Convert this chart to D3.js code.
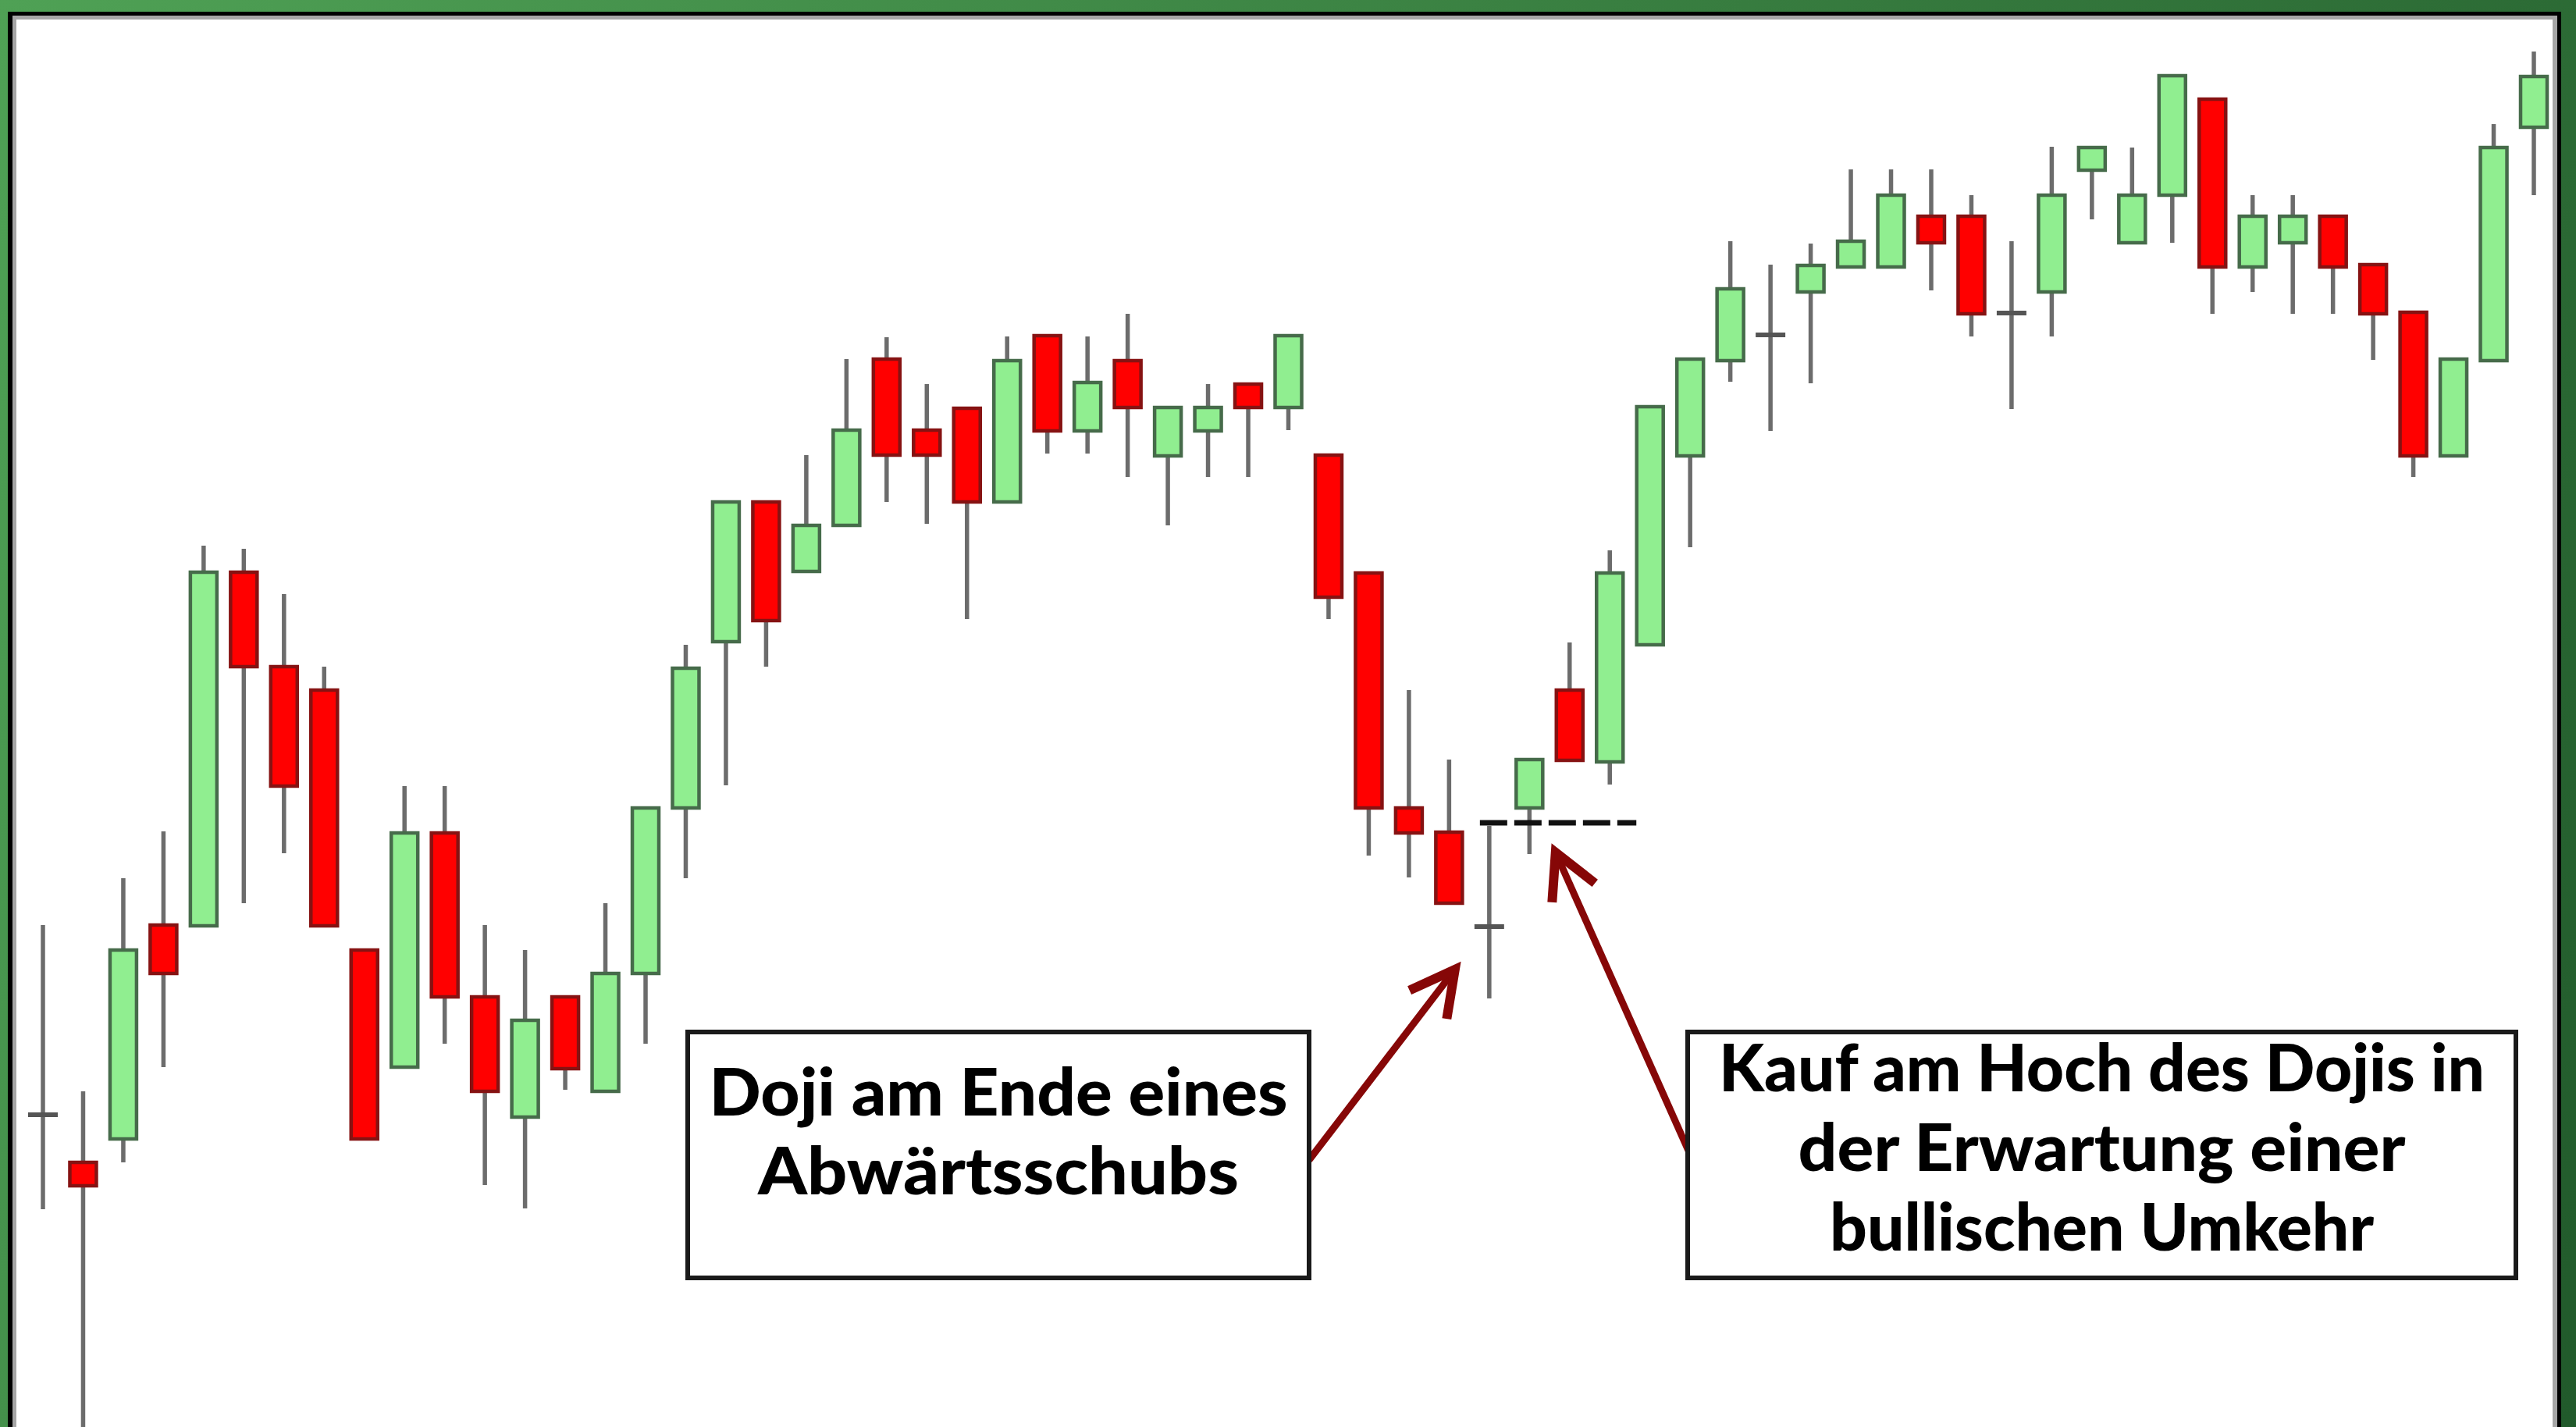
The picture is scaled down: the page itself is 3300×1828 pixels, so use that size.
<!DOCTYPE html>
<html>
<head>
<meta charset="utf-8">
<script src="https://cdn.jsdelivr.net/npm/d3@7"></script>
<style>
  body { margin: 0; background: #fff; }
  svg { display: block; }
</style>
</head>
<body>
<div id="chart"></div>
<script>
// page size
const W = 3300, H = 1828;

// one candle per period
const periods = d3.range(63);

const opens = [47.2, 41.1, 44.1, 71.5, 71.4, 116.7, 104.6, 101.6, 68.3, 53.3,
  83.3, 62.3, 46.9, 62.3, 50.2, 65.3, 86.5, 107.8, 125.7, 116.8,
  122.7, 144.0, 134.9, 137.7, 125.7, 147.0, 134.8, 143.8, 131.6, 134.8,
  140.8, 137.8, 131.7, 116.6, 86.5, 83.4, 71.3, 86.5, 101.6, 92.4,
  107.4, 131.6, 143.8, 147.1, 152.6, 155.8, 155.8, 162.3, 162.3, 149.9,
  152.6, 168.2, 158.9, 165.0, 177.3, 155.8, 158.9, 162.3, 156.1, 150.0,
  131.6, 143.8, 173.7];

const highs = [71.5, 50.2, 77.5, 83.5, 120.1, 119.7, 113.9, 104.6, 68.3, 89.3,
  89.3, 71.5, 68.3, 62.3, 74.3, 86.5, 107.4, 125.7, 125.7, 131.7,
  144.0, 146.8, 140.8, 137.7, 146.9, 147.0, 146.9, 149.8, 137.8, 140.8,
  140.8, 147.0, 131.7, 116.6, 101.6, 92.7, 84.2, 92.7, 107.7, 119.5,
  137.9, 144.0, 159.1, 156.1, 158.8, 168.3, 168.3, 168.3, 165.0, 159.1,
  171.2, 171.1, 171.1, 180.3, 177.3, 165.0, 165.0, 162.3, 156.1, 150.0,
  144.0, 174.1, 183.4];

const lows = [35.1, 4.0, 41.1, 53.3, 71.4, 74.3, 80.7, 71.4, 44.1, 53.3,
  56.3, 38.2, 35.2, 50.4, 50.2, 56.3, 77.5, 89.4, 104.6, 116.8,
  122.7, 125.7, 122.9, 110.7, 125.7, 131.9, 131.9, 128.9, 122.7, 128.9,
  128.9, 134.9, 110.7, 80.4, 77.6, 74.3, 62.1, 80.6, 92.6, 89.5,
  107.4, 119.9, 141.1, 134.8, 140.9, 155.8, 155.8, 152.8, 146.9, 137.6,
  146.9, 161.9, 158.9, 158.9, 149.8, 152.6, 149.8, 149.8, 143.9, 128.9,
  131.6, 143.8, 165.0];

const closes = [47.2, 38.1, 68.3, 65.3, 116.7, 104.6, 89.3, 71.4, 44.1, 83.3,
  62.3, 50.2, 59.3, 53.1, 65.3, 86.5, 104.4, 125.7, 110.5, 122.7,
  134.9, 131.7, 131.7, 125.7, 143.8, 134.8, 141.0, 137.8, 137.8, 137.8,
  137.8, 147.0, 113.5, 86.5, 83.3, 74.3, 71.3, 92.7, 92.6, 116.6,
  137.9, 144.0, 153.0, 147.1, 156.0, 159.1, 165.0, 158.9, 149.8, 149.9,
  165.0, 171.1, 165.0, 180.3, 155.8, 162.3, 162.3, 155.8, 149.8, 131.6,
  144.0, 171.1, 180.2];

// annotation texts
const leftNote = ["Doji am Ende eines", "Abwärtsschubs"];
const rightNote = ["Kauf am Hoch des Dojis in", "der Erwartung einer", "bullischen Umkehr"];
const dojiIndex = 36;

const candles = periods.map(i => ({
  i: i, open: opens[i], high: highs[i], low: lows[i], close: closes[i]
}));

const svg = d3.select("#chart")
  .append("svg")
    .attr("width", W)
    .attr("height", H);

// green frame with a soft gradient
const grad = svg.append("defs").append("linearGradient")
    .attr("id", "frameGreen")
    .attr("gradientUnits", "userSpaceOnUse")
    .attr("x1", 0).attr("y1", 0)
    .attr("x2", W).attr("y2", H);
grad.append("stop").attr("offset", "0%").attr("stop-color", "#4fa155");
grad.append("stop").attr("offset", "100%").attr("stop-color", "#215a2b");

svg.append("rect").attr("width", W).attr("height", H).attr("fill", "url(#frameGreen)");
svg.append("rect").attr("x", 10).attr("y", 15).attr("width", 3271).attr("height", 1900).attr("fill", "#000");
svg.append("rect").attr("x", 16).attr("y", 20).attr("width", 3260).attr("height", 1900).attr("fill", "#a6a6a6");
svg.append("rect").attr("x", 21).attr("y", 25).attr("width", 3249).attr("height", 1900).attr("fill", "#fff");

// scales
const x = d3.scalePoint()
  .domain(periods)
  .range([55, 3246]);

const y = d3.scaleLinear()
  .domain([0, 190])
  .range([1900, 0]);

const bodyW = 34;

// wicks
svg.append("g")
  .selectAll("line")
  .data(candles)
  .join("line")
    .attr("x1", d => x(d.i))
    .attr("x2", d => x(d.i))
    .attr("y1", d => y(d.high))
    .attr("y2", d => y(d.low))
    .attr("stroke", "#6c6c6c")
    .attr("stroke-width", 5.5);

// bodies
svg.append("g")
  .selectAll("rect")
  .data(candles.filter(d => d.open !== d.close))
  .join("rect")
    .attr("x", d => x(d.i) - bodyW / 2)
    .attr("y", d => y(Math.max(d.open, d.close)))
    .attr("width", bodyW)
    .attr("height", d => Math.abs(y(d.open) - y(d.close)))
    .attr("fill", d => d.close > d.open ? "#90ee90" : "#ff0000")
    .attr("stroke", d => d.close > d.open ? "#466b4a" : "#861212")
    .attr("stroke-width", 4.5);

// doji ticks
svg.append("g")
  .selectAll("line")
  .data(candles.filter(d => d.open === d.close))
  .join("line")
    .attr("x1", d => x(d.i) - 19)
    .attr("x2", d => x(d.i) + 19)
    .attr("y1", d => y(d.open))
    .attr("y2", d => y(d.open))
    .attr("stroke", "#555")
    .attr("stroke-width", 6);

// dashed line at the high of the doji
const dojiHigh = highs[dojiIndex];
svg.append("line")
  .attr("x1", x(dojiIndex) - 12)
  .attr("x2", x(dojiIndex + 3) + 34)
  .attr("y1", y(dojiHigh) - 4)
  .attr("y2", y(dojiHigh) - 4)
  .attr("stroke", "#111")
  .attr("stroke-width", 7)
  .attr("stroke-dasharray", "35 9");

// arrows
function arrow(x1, y1, x2, y2) {
  const g = svg.append("g")
    .attr("stroke", "#860707")
    .attr("fill", "none");
  g.append("line")
    .attr("x1", x1).attr("y1", y1)
    .attr("x2", x2).attr("y2", y2)
    .attr("stroke-width", 9);
  const back = Math.atan2(y1 - y2, x1 - x2);
  const a = 28 * Math.PI / 180, len = 64;
  const pts = [
    [x2 + len * Math.cos(back + a), y2 + len * Math.sin(back + a)],
    [x2, y2],
    [x2 + len * Math.cos(back - a), y2 + len * Math.sin(back - a)]
  ];
  g.append("polyline")
    .attr("points", pts.map(p => p.join(",")).join(" "))
    .attr("stroke-width", 12)
    .attr("stroke-linejoin", "miter");
}
arrow(1677, 1486, x(dojiIndex) - 44, y(dojiHigh) + 184);
arrow(2163, 1474, x(dojiIndex + 2) - 18, y(dojiHigh) + 34);

// text boxes
function noteBox(x0, y0, w, h, lines, baselines, widths) {
  svg.append("rect")
    .attr("x", x0).attr("y", y0)
    .attr("width", w).attr("height", h)
    .attr("fill", "#fff")
    .attr("stroke", "#1a1a1a")
    .attr("stroke-width", 6);
  svg.append("g")
    .selectAll("text")
    .data(lines)
    .join("text")
      .attr("x", x0 + w / 2)
      .attr("y", (d, i) => baselines[i])
      .attr("text-anchor", "middle")
      .attr("textLength", (d, i) => widths[i])
      .attr("lengthAdjust", "spacingAndGlyphs")
      .style("font-family", "Lato, 'DejaVu Sans', sans-serif")
      .style("font-weight", 900)
      .style("font-size", "84px")
      .style("fill", "#000")
      .text(d => d);
}
noteBox(881, 1322, 796, 315, leftNote, [1429, 1530], [741, 616]);
noteBox(2162, 1322, 1061, 315, rightNote, [1398, 1500, 1602], [981, 778, 697]);
</script>
</body>
</html>
